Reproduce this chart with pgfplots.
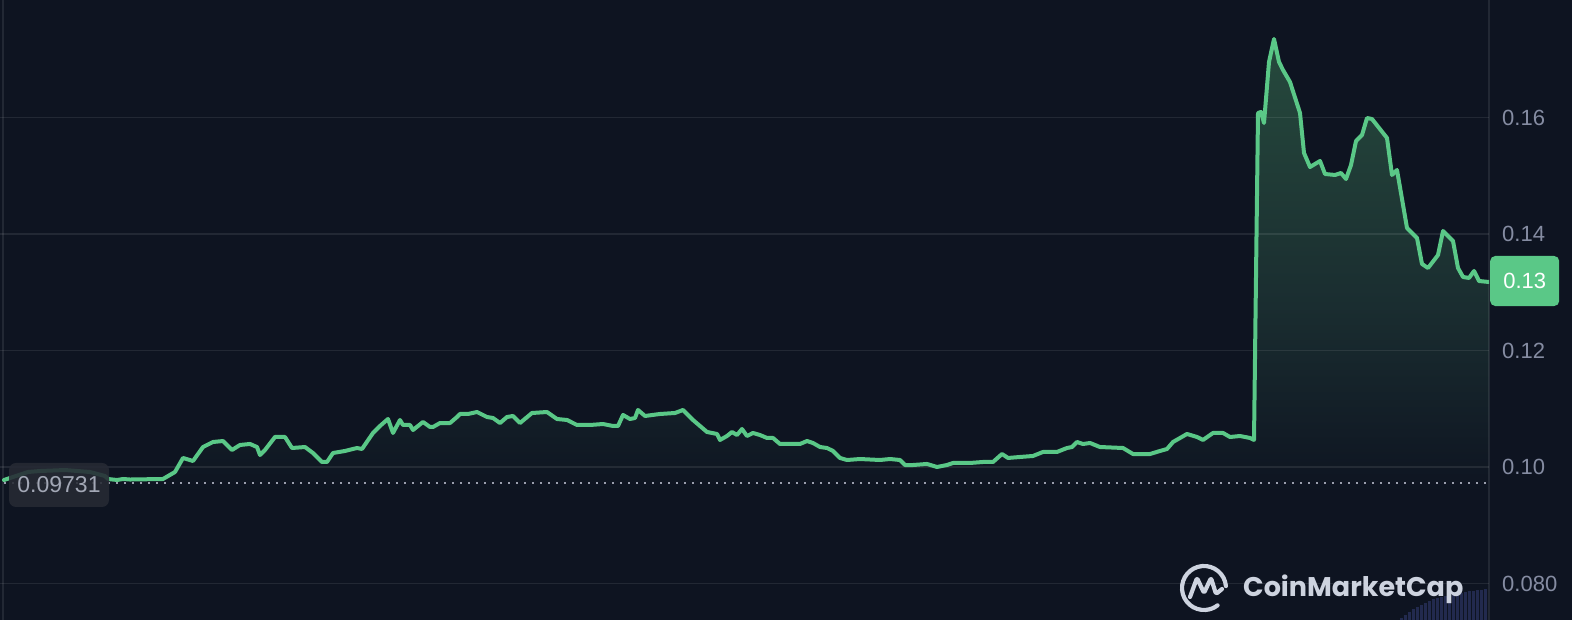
\documentclass[border=0pt]{standalone}
\usepackage{fontspec}
\setmainfont{Liberation Sans}
\newfontfamily\logofont{Poppins}
\usepackage{pgfplots}
\pgfplotsset{compat=1.18}
\usepackage{pgfplotstable}
\definecolor{bg}{HTML}{0E1421}
\definecolor{tickc}{HTML}{858CA2}
\definecolor{linec}{RGB}{90,200,135}
\definecolor{dotc}{HTML}{9A9FAD}
\definecolor{boxc}{HTML}{262A34}
\definecolor{labc}{HTML}{A3A8B6}
\definecolor{volc}{RGB}{34,42,78}
\definecolor{logoc}{RGB}{205,211,223}
\definecolor{fmid}{RGB}{26,45,48}
\definecolor{ftop}{RGB}{38,74,61}
\pgfdeclareverticalshading{pricefade}{100bp}{color(0bp)=(bg); color(36bp)=(bg); color(52bp)=(fmid); color(75bp)=(ftop); color(100bp)=(ftop)}

\pgfplotstableread{
x y
4 0.09777
28 0.09914
40 0.09931
65 0.09948
90 0.09914
105 0.09845
108 0.09794
117 0.09777
123 0.09794
130 0.09785
163 0.09794
175 0.09914
183 0.10155
193 0.10103
203 0.10343
213 0.10429
223 0.10446
232 0.10292
240 0.10378
250 0.10395
257 0.10343
260 0.10206
265 0.10292
275 0.10515
285 0.10515
292 0.10326
305 0.10343
313 0.10240
322 0.10086
327 0.10086
333 0.10240
345 0.10275
357 0.10326
362 0.10309
373 0.10584
380 0.10704
388 0.10824
393 0.10584
400 0.10807
403 0.10721
410 0.10721
413 0.10635
423 0.10773
430 0.10687
433 0.10687
440 0.10755
450 0.10755
457 0.10858
460 0.10910
468 0.10910
477 0.10944
487 0.10858
493 0.10841
500 0.10755
507 0.10858
513 0.10876
520 0.10755
532 0.10927
547 0.10944
557 0.10824
567 0.10807
577 0.10721
590 0.10721
603 0.10738
613 0.10704
618 0.10704
623 0.10893
630 0.10824
635 0.10841
638 0.10979
645 0.10876
660 0.10910
675 0.10927
683 0.10979
693 0.10807
707 0.10601
717 0.10567
720 0.10464
727 0.10532
732 0.10601
737 0.10549
742 0.10652
747 0.10532
753 0.10584
760 0.10549
767 0.10498
773 0.10498
780 0.10395
800 0.10395
807 0.10446
813 0.10412
820 0.10343
827 0.10326
833 0.10275
840 0.10155
847 0.10120
860 0.10137
880 0.10120
890 0.10137
900 0.10120
905 0.10034
913 0.10034
927 0.10052
937 0.10000
947 0.10034
953 0.10069
970 0.10069
983 0.10086
993 0.10086
1002 0.10223
1008 0.10155
1020 0.10172
1033 0.10189
1043 0.10258
1057 0.10258
1067 0.10326
1072 0.10343
1077 0.10429
1083 0.10395
1090 0.10412
1100 0.10343
1123 0.10326
1133 0.10223
1150 0.10223
1160 0.10275
1167 0.10309
1173 0.10429
1180 0.10498
1187 0.10567
1197 0.10515
1203 0.10464
1213 0.10584
1223 0.10584
1230 0.10515
1240 0.10532
1250 0.10498
1254 0.10464
1258 0.16077
1261 0.16094
1264 0.15905
1269 0.16953
1274 0.17347
1279 0.16953
1283 0.16815
1290 0.16609
1300 0.16077
1304 0.15390
1310 0.15150
1320 0.15253
1325 0.15030
1335 0.15013
1341 0.15047
1346 0.14944
1351 0.15184
1356 0.15596
1362 0.15699
1367 0.15991
1372 0.15974
1387 0.15648
1392 0.15013
1397 0.15099
1407 0.14103
1417 0.13931
1422 0.13485
1428 0.13416
1438 0.13639
1443 0.14051
1453 0.13880
1458 0.13416
1463 0.13262
1469 0.13245
1474 0.13365
1479 0.13193
1489 0.13176
}\price

\pgfplotstableread{
x v
1401 2
1405 5
1409 8
1413 11
1417 13
1421 15
1425 17
1429 19
1433 21
1437 22
1441 23
1445 24
1449 25
1453 26
1457 27
1461 27
1465 28
1469 29
1473 29
1477 30
1481 30
1485 31
}\volume

\begin{document}
\begin{tikzpicture}[x=1pt,y=1pt]
\fill[bg] (0,0) rectangle (1572,620);
\path[use as bounding box] (0,0) rectangle (1572,620);

\begin{axis}[at={(0,0)}, anchor=south west, scale only axis,
  width=1489pt, height=620pt,
  xmin=0, xmax=1489, ymin=0.073734, ymax=0.180172,
  axis line style={draw=none}, xtick=\empty,
  ytick={0.08,0.10,0.12,0.14,0.16},
  yticklabels={0.080,0.10,0.12,0.14,0.16},
  yticklabel pos=right, major tick length=0pt,
  yticklabel style={font=\fontsize{22}{22}\selectfont, text=tickc,
    anchor=west, inner sep=0pt, xshift=13pt},
  clip mode=individual]
\addplot[draw=none, shading=pricefade]
  table[x=x,y=y] {\price} |- (axis cs:4,0.073734) -- cycle;
\foreach \g in {0.08,0.10,0.12,0.14,0.16} {
  \edef\tmp{\noexpand\draw[white, opacity=0.085, line width=1.5pt] (axis cs:0,\g) -- (axis cs:1489,\g);}
  \tmp
}
\draw[white, opacity=0.085, line width=1.5pt] (axis cs:3,0.073734) -- (axis cs:3,0.180172);
\draw[white, opacity=0.085, line width=1.5pt] (rel axis cs:1,0) -- (rel axis cs:1,1);
\addplot[dotc, line width=2pt, dash pattern=on 2pt off 6pt] coordinates {(4,0.09731) (1489,0.09731)};
\addplot[linec, line width=4pt, line join=round, line cap=round] table[x=x,y=y] {\price};
\node[fill=boxc, fill opacity=0.88, text opacity=1, rounded corners=7pt,
  minimum width=100pt, minimum height=44pt, inner sep=0pt, text=labc,
  font=\fontsize{23}{23}\selectfont] at (axis cs:59,0.09691) {0.09731};
\node[fill=linec, rounded corners=5pt, minimum width=69pt, minimum height=50pt,
  inner sep=0pt, text=white, anchor=west,
  font=\fontsize{22}{22}\selectfont] at (axis cs:1490,0.13193) {0.13};
\end{axis}

\begin{axis}[at={(0,0)}, anchor=south west, scale only axis,
  width=1489pt, height=620pt, xmin=0, xmax=1489, ymin=0, ymax=620,
  hide axis]
\addplot[ycomb, color=volc, line width=3pt] table[x=x,y=v] {\volume};
\end{axis}

% logo
\begin{scope}[shift={(1204,32)}]
\draw[logoc, line width=4.2pt, line cap=round] (5:22) arc[start angle=5, end angle=308, radius=22];
\draw[logoc, line width=4.2pt, line cap=round, line join=round, rounded corners=2pt]
  (-14,-9) -- (-7,10) -- (0,-5) -- (7,10) -- (12,-6) -- (18,-1);
\end{scope}
\node[anchor=base west, inner sep=0pt, text=logoc,
  font=\logofont\bfseries\fontsize{27}{27}\selectfont] at (1243,23) {CoinMarketCap};
\end{tikzpicture}
\end{document}
